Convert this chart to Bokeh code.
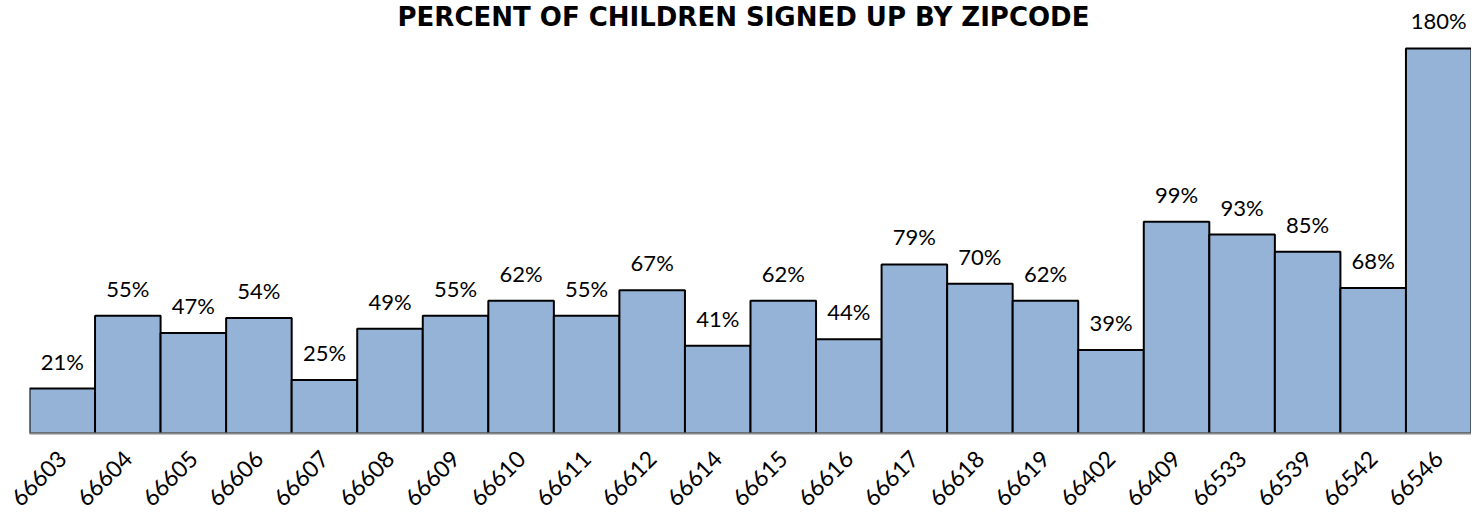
from bokeh.plotting import figure
from bokeh.models import Range1d, FactorRange, ColumnDataSource, Label
from bokeh.core.properties import value
from bokeh.embed import file_html
from bokeh.resources import INLINE
import math

zipcodes = ["66603", "66604", "66605", "66606", "66607", "66608", "66609", "66610",
            "66611", "66612", "66614", "66615", "66616", "66617", "66618", "66619",
            "66402", "66409", "66533", "66539", "66542", "66546"]
percents = [21, 55, 47, 54, 25, 49, 55, 62, 55, 67, 41, 62, 44, 79, 70, 62, 39, 99, 93, 85, 68, 180]
labels = [f"{v}%" for v in percents]
title_text = "PERCENT OF CHILDREN SIGNED UP BY ZIPCODE"

src = ColumnDataSource(dict(x=zipcodes, y=percents, lab=labels))

p = figure(x_range=FactorRange(*zipcodes, range_padding=0), y_range=Range1d(0, 202.4),
           width=1471, height=517, output_backend="svg", toolbar_location=None,
           min_border_left=29, min_border_right=0, min_border_top=0, min_border_bottom=84)
p.outline_line_color = None
p.xgrid.visible = False
p.ygrid.visible = False
p.yaxis.visible = False

p.vbar(x="x", top="y", width=1.0, source=src, fill_color="#95B3D7",
       line_color="black", line_width=2)
p.text(x="x", y="y", text="lab", source=src, text_align="center", text_baseline="bottom",
       y_offset=-14, text_font=value("Lato"), text_font_size="22px", text_color="black")

p.xaxis.axis_line_color = "#868686"
p.xaxis.axis_line_width = 2
p.xaxis.major_tick_line_color = None
p.xaxis.major_label_orientation = math.pi / 4
p.xaxis.major_label_text_font = "Lato"
p.xaxis.major_label_text_font_size = "23px"
p.xaxis.major_label_text_color = "black"
p.xaxis.major_label_standoff = 15

p.add_layout(Label(x=714, y=432, x_units="screen", y_units="screen", text=title_text,
                   text_align="center", text_baseline="top", text_font="DejaVu Sans",
                   text_font_style="bold", text_font_size="26px", text_color="black"))

open("out.html", "w").write(file_html(p, INLINE))
